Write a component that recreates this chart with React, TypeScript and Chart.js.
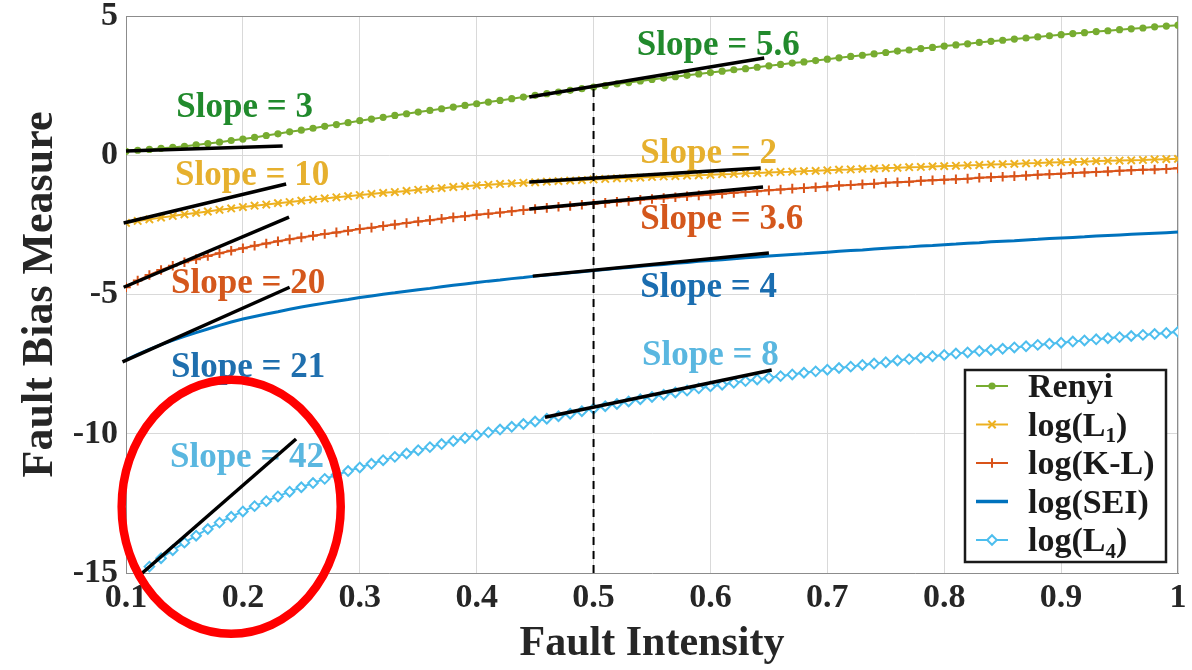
import React, { useEffect, useRef } from 'react';
import { Chart, registerables } from 'chart.js';
import { drawPoint } from 'chart.js/helpers';

Chart.register(...registerables);

// ---------- data ----------
const xValues = [
  0.10, 0.11, 0.12, 0.13, 0.14, 0.15, 0.16, 0.17, 0.18, 0.19,
  0.20, 0.21, 0.22, 0.23, 0.24, 0.25, 0.26, 0.27, 0.28, 0.29,
  0.30, 0.31, 0.32, 0.33, 0.34, 0.35, 0.36, 0.37, 0.38, 0.39,
  0.40, 0.41, 0.42, 0.43, 0.44, 0.45, 0.46, 0.47, 0.48, 0.49,
  0.50, 0.51, 0.52, 0.53, 0.54, 0.55, 0.56, 0.57, 0.58, 0.59,
  0.60, 0.61, 0.62, 0.63, 0.64, 0.65, 0.66, 0.67, 0.68, 0.69,
  0.70, 0.71, 0.72, 0.73, 0.74, 0.75, 0.76, 0.77, 0.78, 0.79,
  0.80, 0.81, 0.82, 0.83, 0.84, 0.85, 0.86, 0.87, 0.88, 0.89,
  0.90, 0.91, 0.92, 0.93, 0.94, 0.95, 0.96, 0.97, 0.98, 0.99,
  1.00,
];

const renyi = [
  0.14, 0.18, 0.21, 0.25, 0.28, 0.32, 0.37, 0.42, 0.47, 0.53,
  0.58, 0.64, 0.71, 0.77, 0.84, 0.90, 0.97, 1.04, 1.10, 1.17,
  1.24, 1.30, 1.36, 1.43, 1.49, 1.55, 1.61, 1.67, 1.73, 1.79,
  1.85, 1.91, 1.97, 2.03, 2.09, 2.15, 2.21, 2.27, 2.33, 2.39,
  2.45, 2.50, 2.56, 2.61, 2.67, 2.72, 2.77, 2.82, 2.87, 2.92,
  2.97, 3.02, 3.07, 3.11, 3.16, 3.21, 3.26, 3.31, 3.35, 3.40,
  3.45, 3.50, 3.55, 3.59, 3.64, 3.69, 3.74, 3.78, 3.83, 3.87,
  3.92, 3.96, 4.00, 4.05, 4.09, 4.13, 4.17, 4.21, 4.25, 4.29,
  4.33, 4.37, 4.40, 4.44, 4.47, 4.51, 4.54, 4.57, 4.61, 4.64,
  4.67,
];

const logL1 = [
  -2.43, -2.36, -2.30, -2.24, -2.18, -2.12, -2.07, -2.02, -1.96, -1.91,
  -1.86, -1.81, -1.77, -1.72, -1.68, -1.63, -1.59, -1.55, -1.51, -1.47,
  -1.43, -1.39, -1.35, -1.32, -1.28, -1.24, -1.21, -1.18, -1.14, -1.11,
  -1.08, -1.06, -1.03, -1.01, -0.99, -0.97, -0.95, -0.93, -0.91, -0.89,
  -0.87, -0.85, -0.83, -0.82, -0.80, -0.78, -0.76, -0.75, -0.73, -0.72,
  -0.70, -0.68, -0.67, -0.65, -0.64, -0.62, -0.60, -0.59, -0.57, -0.56,
  -0.54, -0.52, -0.51, -0.49, -0.48, -0.46, -0.45, -0.43, -0.42, -0.40,
  -0.39, -0.38, -0.36, -0.35, -0.33, -0.32, -0.31, -0.29, -0.28, -0.26,
  -0.25, -0.24, -0.23, -0.21, -0.20, -0.19, -0.18, -0.17, -0.15, -0.14,
  -0.13,
];

const logKL = [
  -4.74, -4.50, -4.30, -4.12, -3.97, -3.84, -3.73, -3.62, -3.52, -3.43,
  -3.34, -3.25, -3.17, -3.09, -3.02, -2.95, -2.89, -2.83, -2.77, -2.71,
  -2.65, -2.60, -2.54, -2.49, -2.43, -2.38, -2.33, -2.28, -2.23, -2.19,
  -2.14, -2.10, -2.06, -2.01, -1.97, -1.93, -1.89, -1.85, -1.82, -1.78,
  -1.74, -1.71, -1.67, -1.64, -1.60, -1.57, -1.54, -1.51, -1.47, -1.44,
  -1.41, -1.38, -1.35, -1.32, -1.29, -1.26, -1.23, -1.20, -1.18, -1.15,
  -1.12, -1.09, -1.07, -1.04, -1.02, -0.99, -0.97, -0.95, -0.92, -0.90,
  -0.88, -0.86, -0.84, -0.81, -0.79, -0.77, -0.75, -0.73, -0.70, -0.68,
  -0.66, -0.64, -0.62, -0.60, -0.58, -0.56, -0.54, -0.52, -0.51, -0.49,
  -0.47,
];

const logSEI = [
  -7.35, -7.15, -6.97, -6.80, -6.65, -6.50, -6.37, -6.24, -6.11, -5.99,
  -5.88, -5.79, -5.70, -5.62, -5.53, -5.45, -5.38, -5.31, -5.24, -5.18,
  -5.11, -5.05, -4.99, -4.94, -4.88, -4.83, -4.78, -4.72, -4.67, -4.62,
  -4.57, -4.52, -4.48, -4.43, -4.39, -4.34, -4.30, -4.26, -4.22, -4.18,
  -4.14, -4.10, -4.06, -4.03, -3.99, -3.95, -3.92, -3.88, -3.85, -3.81,
  -3.78, -3.75, -3.72, -3.68, -3.65, -3.62, -3.59, -3.56, -3.54, -3.51,
  -3.48, -3.45, -3.42, -3.40, -3.37, -3.34, -3.31, -3.29, -3.26, -3.24,
  -3.21, -3.19, -3.16, -3.14, -3.11, -3.09, -3.07, -3.04, -3.02, -2.99,
  -2.97, -2.95, -2.93, -2.90, -2.88, -2.86, -2.84, -2.82, -2.80, -2.78,
  -2.76,
];

const logL4 = [
  -15.45, -15.10, -14.77, -14.47, -14.18, -13.91, -13.66, -13.42, -13.19, -12.98,
  -12.79, -12.60, -12.42, -12.25, -12.08, -11.92, -11.77, -11.62, -11.48, -11.34,
  -11.21, -11.08, -10.95, -10.83, -10.71, -10.59, -10.48, -10.37, -10.26, -10.15,
  -10.05, -9.95, -9.85, -9.75, -9.65, -9.56, -9.46, -9.37, -9.28, -9.19,
  -9.10, -9.01, -8.93, -8.84, -8.76, -8.68, -8.60, -8.52, -8.45, -8.37,
  -8.30, -8.24, -8.17, -8.11, -8.05, -7.99, -7.93, -7.87, -7.81, -7.76,
  -7.70, -7.64, -7.59, -7.53, -7.48, -7.43, -7.37, -7.32, -7.27, -7.22,
  -7.17, -7.12, -7.08, -7.03, -6.99, -6.95, -6.90, -6.86, -6.81, -6.77,
  -6.73, -6.69, -6.65, -6.61, -6.57, -6.53, -6.49, -6.45, -6.42, -6.38,
  -6.34,
];

const seriesNames = ['Renyi', 'log(L\u2081)', 'log(K-L)', 'log(SEI)', 'log(L\u2084)'];

const xTicks = [0.1, 0.2, 0.3, 0.4, 0.5, 0.6, 0.7, 0.8, 0.9, 1.0];
const xTickLabels = ['0.1', '0.2', '0.3', '0.4', '0.5', '0.6', '0.7', '0.8', '0.9', '1'];
const yTicks = [-15, -10, -5, 0, 5];
const yTickLabels = ['-15', '-10', '-5', '0', '5'];

// tangent (slope) segments, in data units
const slopeLabels = ['Slope = 3', 'Slope = 10', 'Slope = 20', 'Slope = 21', 'Slope = 42',
  'Slope = 5.6', 'Slope = 2', 'Slope = 3.6', 'Slope = 4', 'Slope = 8'];
const slopeStartX = [0.100, 0.098, 0.098, 0.097, 0.112, 0.445, 0.445, 0.445, 0.448, 0.4585];
const slopeStartY = [0.15, -2.43, -4.74, -7.42, -15.07, 2.09, -0.96, -1.93, -4.34, -9.41];
const slopeEndX = [0.234, 0.237, 0.2395, 0.240, 0.2455, 0.646, 0.643, 0.645, 0.650, 0.6524];
const slopeEndY = [0.33, -1.03, -2.22, -4.74, -10.19, 3.49, -0.46, -1.14, -3.51, -7.71];
// label anchor (left, baseline) in data units
const slopeLabelX = [0.143, 0.142, 0.1385, 0.1385, 0.1376, 0.537, 0.540, 0.540, 0.540, 0.5415];
const slopeLabelY = [1.37, -1.07, -4.95, -7.96, -11.19, 3.60, -0.28, -2.65, -5.09, -7.53];

// dashed marker at fault intensity 0.5
const markerX = [0.5, 0.5];
const markerY = [-15, 2.52];

// highlight ellipse (center and radii in data units)
const highlightCenter = [0.19, -12.62];
const highlightRadius = [0.0937, 4.56];

// ---------- styles ----------
const SERIF = '"Liberation Serif", "Times New Roman", serif';
const seriesColors = ['#77ac30', '#edb120', '#d95319', '#0072bd', '#4dbeee'];
const slopeLabelColors = ['#218a2c', '#e6b02e', '#d4571c', '#1f6fae', '#5ab7e0',
  '#218a2c', '#e6b02e', '#d4571c', '#1a6db0', '#5ab7e0'];
const seriesWidths = [2, 2, 2, 3, 2];
const pointStyles: any[] = [
  { pointStyle: 'circle', radius: 3.6, bg: '#77ac30', bw: 0 },
  { pointStyle: 'crossRot', radius: 5.2, bg: '#edb120', bw: 2 },
  { pointStyle: 'cross', radius: 4.8, bg: '#d95319', bw: 2 },
  { pointStyle: false, radius: 0, bg: '#0072bd', bw: 0 },
  { pointStyle: 'rectRot', radius: 4.8, bg: '#ffffff', bw: 2 },
];

const seriesValues = [renyi, logL1, logKL, logSEI, logL4];

function buildDatasets() {
  const ds: any[] = seriesValues.map((vals, i) => ({
    label: seriesNames[i],
    data: xValues.map((x, k) => ({ x, y: vals[k] })),
    borderColor: seriesColors[i],
    backgroundColor: pointStyles[i].bg,
    borderWidth: seriesWidths[i],
    pointStyle: pointStyles[i].pointStyle || 'circle',
    pointRadius: pointStyles[i].radius,
    pointBorderColor: seriesColors[i],
    pointBackgroundColor: pointStyles[i].bg,
    pointBorderWidth: pointStyles[i].bw,
    tension: 0,
    order: 10,
  }));
  slopeLabels.forEach((lab, i) => {
    ds.push({
      label: lab,
      data: [
        { x: slopeStartX[i], y: slopeStartY[i] },
        { x: slopeEndX[i], y: slopeEndY[i] },
      ],
      borderColor: '#000000',
      borderWidth: 3.5,
      pointRadius: 0,
      clip: 10,
      order: 1,
    });
  });
  ds.push({
    label: 'marker',
    data: markerX.map((x, k) => ({ x, y: markerY[k] })),
    borderColor: '#000000',
    borderWidth: 2,
    borderDash: [8, 6],
    pointRadius: 0,
    order: 2,
  });
  return ds;
}

function drawLabelWithSubscript(ctx: CanvasRenderingContext2D, text: string, x: number, y: number, size: number) {
  const subMap: Record<string, string> = { '\u2081': '1', '\u2084': '4' };
  let cx = x;
  for (const ch of text) {
    if (subMap[ch]) {
      ctx.font = `bold ${Math.round(size * 0.62)}px ${SERIF}`;
      ctx.fillText(subMap[ch], cx, y + size * 0.2);
      cx += ctx.measureText(subMap[ch]).width;
    } else {
      ctx.font = `bold ${size}px ${SERIF}`;
      ctx.fillText(ch, cx, y);
      cx += ctx.measureText(ch).width;
    }
  }
}

const annotationPlugin = {
  id: 'annotations',
  beforeDatasetsDraw(chart: any) {
    const { ctx, chartArea: a, scales } = chart;
    const xs = scales.x;
    const ys = scales.y;
    ctx.save();
    // top & right box edges
    ctx.strokeStyle = '#8c8c8c';
    ctx.lineWidth = 1;
    ctx.beginPath();
    ctx.moveTo(a.left, a.top + 0.5);
    ctx.lineTo(a.right, a.top + 0.5);
    ctx.moveTo(a.right - 0.5, a.top);
    ctx.lineTo(a.right - 0.5, a.bottom);
    ctx.stroke();
    // slope labels
    ctx.font = `bold 35px ${SERIF}`;
    ctx.textAlign = 'left';
    ctx.textBaseline = 'alphabetic';
    slopeLabels.forEach((t, i) => {
      ctx.fillStyle = slopeLabelColors[i];
      ctx.fillText(t, xs.getPixelForValue(slopeLabelX[i]), ys.getPixelForValue(slopeLabelY[i]));
    });
    ctx.restore();
  },
  afterDatasetsDraw(chart: any) {
    const { ctx, chartArea: a } = chart;
    // legend box
    const w = 201;
    const h = 192;
    const right = a.right - 12;
    const bottom = a.bottom - 11;
    const left = right - w;
    const top = bottom - h;
    ctx.save();
    ctx.fillStyle = '#ffffff';
    ctx.fillRect(left, top, w, h);
    ctx.strokeStyle = '#1a1a1a';
    ctx.lineWidth = 2.5;
    ctx.strokeRect(left, top, w, h);
    const rowH = 38.5;
    seriesNames.forEach((name, i) => {
      const cy = top + 16 + i * rowH;
      ctx.strokeStyle = seriesColors[i];
      ctx.lineWidth = i === 3 ? 3.5 : 2;
      ctx.setLineDash([]);
      ctx.beginPath();
      ctx.moveTo(left + 11, cy);
      ctx.lineTo(left + 43, cy);
      ctx.stroke();
      const ps = pointStyles[i];
      if (ps.pointStyle) {
        ctx.fillStyle = ps.bg;
        ctx.strokeStyle = seriesColors[i];
        ctx.lineWidth = ps.bw || 1;
        drawPoint(ctx, { pointStyle: ps.pointStyle, radius: ps.radius, borderWidth: ps.bw, rotation: 0 } as any, left + 27, cy);
      }
      ctx.fillStyle = '#1a1a1a';
      ctx.textAlign = 'left';
      ctx.textBaseline = 'alphabetic';
      drawLabelWithSubscript(ctx, name, left + 63, cy + 11, 34);
    });
    ctx.restore();
  },
  afterDraw(chart: any) {
    const { ctx, scales } = chart;
    const xs = scales.x;
    const ys = scales.y;
    const cx = xs.getPixelForValue(highlightCenter[0]);
    const cy = ys.getPixelForValue(highlightCenter[1]);
    const rx = Math.abs(xs.getPixelForValue(highlightCenter[0] + highlightRadius[0]) - cx);
    const ry = Math.abs(ys.getPixelForValue(highlightCenter[1] + highlightRadius[1]) - cy);
    ctx.save();
    ctx.strokeStyle = '#ff0000';
    ctx.lineWidth = 8.5;
    ctx.beginPath();
    ctx.ellipse(cx, cy, rx, ry, 0, 0, Math.PI * 2);
    ctx.stroke();
    ctx.restore();
  },
};

export default function App() {
  const ref = useRef<HTMLCanvasElement>(null);
  useEffect(() => {
    if (!ref.current) return;
    const tickFont = { family: SERIF, size: 34, weight: 'bold' as const };
    const chart = new Chart(ref.current, {
      type: 'line',
      data: { datasets: buildDatasets() },
      options: {
        animation: false,
        responsive: false,
        devicePixelRatio: 1,
        events: [],
        layout: { padding: { left: 0, top: 16, right: 14, bottom: 0 } },
        plugins: { legend: { display: false }, tooltip: { enabled: false } },
        scales: {
          x: {
            type: 'linear',
            min: 0.1,
            max: 1.0,
            afterBuildTicks: (s: any) => { s.ticks = xTicks.map((v) => ({ value: v })); },
            afterFit: (s: any) => { s.height = 97; s.paddingLeft = 0; s.paddingRight = 0; },
            ticks: {
              autoSkip: false,
              maxRotation: 0,
              padding: 5,
              color: '#262626',
              font: tickFont,
              callback: (v: any) => xTickLabels[xTicks.indexOf(v)] ?? '',
            },
            grid: { color: '#d9d9d9', lineWidth: 1, drawTicks: false },
            border: { color: '#8c8c8c', width: 1 },
            title: {
              display: true,
              text: 'Fault Intensity',
              color: '#262626',
              font: { family: SERIF, size: 42, weight: 'bold' },
              padding: { top: 0, bottom: 1 },
            },
          },
          y: {
            type: 'linear',
            min: -15,
            max: 5,
            afterBuildTicks: (s: any) => { s.ticks = yTicks.map((v) => ({ value: v })); },
            afterFit: (s: any) => { s.width = 126; s.paddingTop = 0; s.paddingBottom = 0; },
            ticks: {
              padding: 8,
              color: '#262626',
              font: tickFont,
              callback: (v: any) => yTickLabels[yTicks.indexOf(v)] ?? '',
            },
            grid: { color: '#d9d9d9', lineWidth: 1, drawTicks: false },
            border: { color: '#8c8c8c', width: 1 },
            title: {
              display: true,
              text: 'Fault Bias Measure',
              color: '#262626',
              font: { family: SERIF, size: 44, weight: 'bold' },
              padding: { top: 14, bottom: 0 },
            },
          },
        },
      },
      plugins: [annotationPlugin],
    } as any);
    return () => chart.destroy();
  }, []);
  return (
    <div style={{ position: 'absolute', left: 0, top: 0, width: 1192, height: 670, background: '#ffffff' }}>
      <canvas ref={ref} width={1192} height={670} style={{ display: 'block' }} />
    </div>
  );
}
